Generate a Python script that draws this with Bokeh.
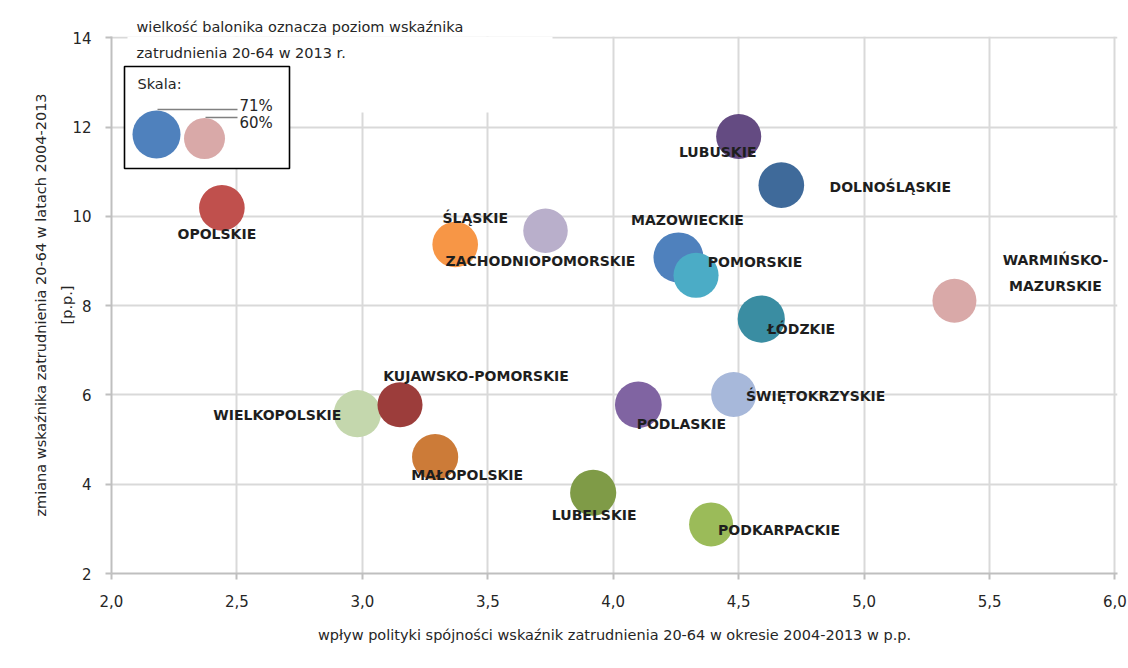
from bokeh.plotting import figure
from bokeh.models import ColumnDataSource, Range1d, FixedTicker, LinearInterpolator, Label
from bokeh.transform import transform
from bokeh.core.properties import value
from bokeh.embed import file_html
from bokeh.resources import INLINE

# ---------------- data ----------------
regions = ["OPOLSKIE", "ŚLĄSKIE", "ZACHODNIOPOMORSKIE", "MAZOWIECKIE", "POMORSKIE",
           "LUBUSKIE", "DOLNOŚLĄSKIE", "ŁÓDZKIE", "WARMIŃSKO-\nMAZURSKIE", "WIELKOPOLSKIE",
           "KUJAWSKO-POMORSKIE", "MAŁOPOLSKIE", "LUBELSKIE", "PODLASKIE", "ŚWIĘTOKRZYSKIE",
           "PODKARPACKIE"]
cohesion_effect = [2.44, 3.37, 3.73, 4.26, 4.33, 4.50, 4.67, 4.59, 5.36, 2.98,
                   3.15, 3.29, 3.92, 4.10, 4.48, 4.39]
employment_change = [10.19, 9.37, 9.68, 9.08, 8.68, 11.79, 10.70, 7.70, 8.11, 5.58,
                     5.78, 4.61, 3.81, 5.78, 6.01, 3.10]
employment_2013 = [63, 63, 61, 71, 62, 62, 63, 66, 60, 66, 62, 64, 64, 65, 62, 60]

x_ticks = [2.0, 2.5, 3.0, 3.5, 4.0, 4.5, 5.0, 5.5, 6.0]
x_tick_labels = ["2,0", "2,5", "3,0", "3,5", "4,0", "4,5", "5,0", "5,5", "6,0"]
y_ticks = [2, 4, 6, 8, 10, 12, 14]
y_tick_labels = ["2", "4", "6", "8", "10", "12", "14"]

legend_values = [71, 60]
legend_texts = ["71%", "60%"]

note_lines = ["wielkość balonika oznacza poziom wskaźnika", "zatrudnienia 20-64 w 2013 r."]

# ---------------- styles ----------------
colors = ["#C0504D", "#F79646", "#B9AFCB", "#4F81BD", "#4BACC6",
          "#644B82", "#3F6A9A", "#3A8DA2", "#D9A9A8", "#C4D7AD",
          "#9C3D3B", "#CC7B38", "#7F9B47", "#8064A2", "#A7B8DA",
          "#9BBB59"]
label_dx = [-5, 20, -5, 9, 59, -21, 109, 40, 101, -80, 76, 32, 1, 43, 82, 68]
label_dy = [26, -27, 30, -37, -13, 16, 2, 10, -28, 1, -29, 18, 22, 19, 1, 6]
legend_colors = ["#4F81BD", "#D9A9A8"]
legend_sizes = [48, 41]

FONT = value("DejaVu Sans")
TXT = "#262626"

X0, X1 = 2.0, 6.01
Y0, Y1 = 2.0, 14.03
FL, FR, FT, FB = 111, 1117, 36, 573   # frame edges in page px
W, H = 1128, 668


def px2x(px):
    return X0 + (px - FL) * (X1 - X0) / (FR - FL)


def py2y(py):
    return Y1 - (py - FT) * (Y1 - Y0) / (FB - FT)


p = figure(width=W, height=H, output_backend="svg", toolbar_location=None,
           x_range=Range1d(X0, X1), y_range=Range1d(Y0, Y1),
           min_border_left=FL, min_border_right=W - FR,
           min_border_top=FT, min_border_bottom=H - FB)
p.outline_line_color = None
p.background_fill_color = "white"
p.border_fill_color = "white"

# first line of the note sits above the plot area
p.title.text = note_lines[0]
p.title.align = "left"
p.title.offset = 25
p.title.standoff = 4
p.title.text_font = "DejaVu Sans"
p.title.text_font_size = "14.5px"
p.title.text_font_style = "normal"
p.title.text_color = TXT

for g in (p.xgrid, p.ygrid):
    g.grid_line_color = "#D9D9D9"
    g.grid_line_width = 2
p.xgrid.ticker = FixedTicker(ticks=x_ticks)
p.ygrid.ticker = FixedTicker(ticks=y_ticks)

p.xaxis.ticker = FixedTicker(ticks=x_ticks)
p.yaxis.ticker = FixedTicker(ticks=y_ticks)
p.xaxis.major_label_overrides = {t: l for t, l in zip(x_ticks, x_tick_labels)}
p.yaxis.major_label_overrides = {t: l for t, l in zip(y_ticks, y_tick_labels)}

for ax in (p.xaxis[0], p.yaxis[0]):
    ax.axis_line_color = "#BFBFBF"
    ax.axis_line_width = 2
    ax.major_tick_line_color = "#BFBFBF"
    ax.major_tick_line_width = 2
    ax.major_tick_out = 6
    ax.major_tick_in = 0
    ax.minor_tick_line_color = None
    ax.major_label_text_font = "DejaVu Sans"
    ax.major_label_text_font_size = "15px"
    ax.major_label_text_color = TXT
    ax.axis_label_text_font = "DejaVu Sans"
    ax.axis_label_text_font_style = "normal"
    ax.axis_label_text_color = TXT

p.xaxis.major_label_standoff = 15
p.yaxis.major_label_standoff = 14
p.xaxis.axis_label = "wpływ polityki spójności wskaźnik zatrudnienia 20-64 w okresie 2004-2013 w p.p."
p.xaxis.axis_label_text_font_size = "14.5px"
p.xaxis.axis_label_standoff = 17
p.yaxis.axis_label = "zmiana wskaźnika zatrudnienia 20-64 w latach 2004-2013\n[p.p.]"
p.yaxis.axis_label_text_font_size = "14.5px"
p.yaxis.axis_label_text_line_height = 1.65
p.yaxis.axis_label_standoff = -6

# ---------------- bubbles ----------------
src = ColumnDataSource(dict(x=cohesion_effect, y=employment_change, rate=employment_2013,
                            name=regions, color=colors, dx=label_dx, dy=label_dy))
size_map = LinearInterpolator(x=[60, 71], y=[44, 50], clip=False)
p.scatter("x", "y", source=src, size=transform("rate", size_map), marker="circle",
          fill_color="color", line_color=None)

p.text("x", "y", text="name", source=src, x_offset="dx", y_offset="dy",
       text_align="center", text_baseline="middle", text_font=FONT,
       text_font_size="14px", text_font_style="bold", text_color="#1E1E1E",
       text_line_height=1.6)

# ---------------- note & scale legend ----------------
p.quad(left=[px2x(127)], right=[px2x(552)], bottom=[py2y(112)], top=[Y1],
       fill_color="white", line_color=None)
p.add_layout(Label(x=px2x(136), y=py2y(52), text=note_lines[1], text_align="left",
                   text_baseline="middle", text_font="DejaVu Sans",
                   text_font_size="14.5px", text_color=TXT))

p.quad(left=[px2x(124)], right=[px2x(289)], bottom=[py2y(168)], top=[py2y(66)],
       fill_color="white", line_color="black", line_width=1.6)
p.text(x=[px2x(137)], y=[py2y(83)], text=["Skala:"], text_align="left",
       text_baseline="middle", text_font=FONT, text_font_size="14.5px", text_color=TXT)
p.segment(x0=[px2x(157), px2x(205)], y0=[py2y(109), py2y(117)],
          x1=[px2x(237), px2x(237)], y1=[py2y(109), py2y(117)],
          line_color="#808080", line_width=1.5)
p.scatter(x=[px2x(156), px2x(204)], y=[py2y(134), py2y(138)], size=legend_sizes,
          marker="circle", fill_color=legend_colors, line_color=None)
p.text(x=[px2x(239), px2x(239)], y=[py2y(105), py2y(122)], text=legend_texts,
       text_align="left", text_baseline="middle", text_font=FONT,
       text_font_size="15px", text_color=TXT)

open("out.html", "w").write(file_html(p, INLINE))
